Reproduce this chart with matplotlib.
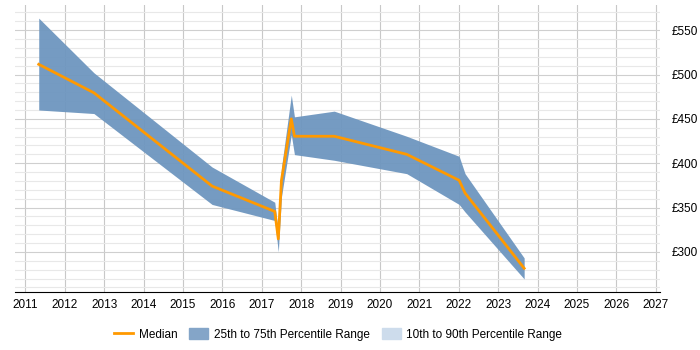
import matplotlib
matplotlib.use("Agg")
from matplotlib import pyplot as plt
from matplotlib.patches import Patch
from matplotlib.lines import Line2D
from matplotlib.ticker import MultipleLocator, FuncFormatter

plt.rcParams['font.family'] = ['Liberation Sans', 'DejaVu Sans']

# data
years = [2011.34, 2012.74, 2015.74, 2017.33, 2017.42, 2017.5, 2017.75,
         2017.83, 2018.84, 2020.68, 2022.01, 2022.16, 2023.66]
median = [511.5, 479.4, 374.2, 345.6, 314.7, 380.7, 450.0,
          430.4, 430.4, 410.0, 380.7, 366.3, 281.5]
q25 = [460.0, 456.0, 353.5, 335.4, 300.0, 362.0, 432.0,
       409.7, 403.3, 388.2, 353.5, 345.0, 269.5]
q75 = [563.6, 502.0, 395.7, 356.0, 322.0, 395.0, 476.8,
       452.3, 458.7, 430.4, 407.8, 388.2, 293.2]
year_ticks = list(range(2011, 2028))

fig = plt.figure(figsize=(7, 3.5), dpi=100)
ax = fig.add_axes([0.021, 0.165, 0.922, 0.821])

ax.fill_between(years, q25, q75, color='#6e96bf', alpha=0.95, lw=0, zorder=2)
ax.plot(years, median, color='#ff9900', lw=2, zorder=3)

ax.set_xlim(2010.73, 2027.11)
ax.set_ylim(254.5, 578.5)
ax.set_xticks(year_ticks)
ax.yaxis.set_major_locator(MultipleLocator(50))
ax.yaxis.set_minor_locator(MultipleLocator(10))
ax.yaxis.set_major_formatter(FuncFormatter(lambda v, p: '£%d' % v))
ax.yaxis.tick_right()

ax.grid(axis='x', color='#c8c8c8', lw=0.8, zorder=0)
ax.grid(axis='y', which='major', color='#cfcfcf', lw=0.8, zorder=0)
ax.grid(axis='y', which='minor', color='#e8e8e8', lw=0.8, zorder=0)

for s in ['top', 'left', 'right']:
    ax.spines[s].set_visible(False)
ax.spines['bottom'].set_color('black')
ax.tick_params(axis='x', length=0, pad=5, labelsize=8.5)
ax.tick_params(axis='y', which='both', length=0, pad=8, labelsize=8.5)

handles = [Line2D([], [], color='#ff9900', lw=2),
           Patch(color='#84a5c8'),
           Patch(color='#cddcec')]
labels = ['Median', '25th to 75th Percentile Range', '10th to 90th Percentile Range']
fig.legend(handles, labels, loc='center', bbox_to_anchor=(0.483, 0.045), ncol=3,
           frameon=False, fontsize=8.5, handlelength=1.6, handleheight=1.1,
           handletextpad=0.5, columnspacing=1.0)

fig.savefig('out.png')
